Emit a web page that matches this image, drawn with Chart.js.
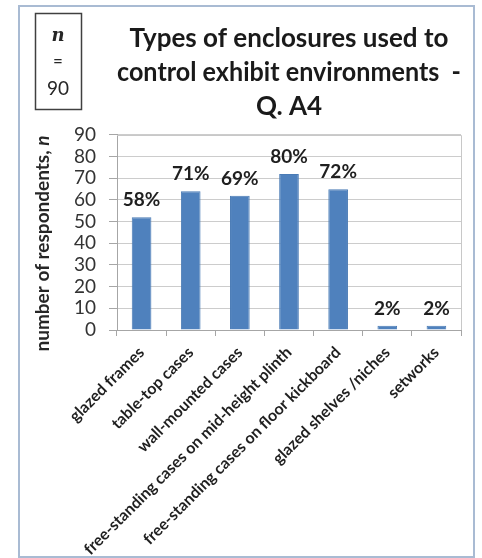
<!DOCTYPE html>
<html>
<head>
    <meta charset="UTF-8">
    <title>Types of enclosures - Q. A4</title>
    <script src="https://cdn.jsdelivr.net/npm/chart.js"></script>
    <style>
        body { margin: 0; background: #fff; }
        #wrap { position: relative; width: 482px; height: 558px; }
    </style>
</head>
<body>
    <div id="wrap">
        <canvas id="chart" width="482" height="558"></canvas>
    </div>

    <script>
        // survey answers, n = 90 respondents
        var totalRespondents = 90;
        var enclosureTypes = [
            'glazed frames',
            'table-top cases',
            'wall-mounted cases',
            'free-standing cases on mid-height plinth',
            'free-standing cases on floor kickboard',
            'glazed shelves /niches',
            'setworks'
        ];
        var respondentCounts = [52, 64, 62, 72, 65, 2, 2];
        var yTicks = [0, 10, 20, 30, 40, 50, 60, 70, 80, 90];

        var titleLines = ['Types of enclosures used to', 'control exhibit environments  -', 'Q. A4'];

        var FONT = 'Lato, "Open Sans", sans-serif';

        // percent labels above each bar
        var percentLabels = {
            id: 'percentLabels',
            afterDatasetsDraw: function(chart) {
                var ctx = chart.ctx;
                var meta = chart.getDatasetMeta(0);
                ctx.save();
                ctx.font = 'bold 19px ' + FONT;
                ctx.fillStyle = '#1f1f1f';
                ctx.textAlign = 'center';
                ctx.textBaseline = 'alphabetic';
                meta.data.forEach(function(bar, i) {
                    var pct = Math.round(respondentCounts[i] / totalRespondents * 100);
                    ctx.fillText(pct + '%', bar.x, bar.y - 11);
                });
                ctx.restore();
            }
        };

        // outer frame, plot border, n box and y axis title
        var decorations = {
            id: 'decorations',
            beforeDraw: function(chart) {
                var ctx = chart.ctx;
                ctx.save();
                ctx.fillStyle = '#ffffff';
                ctx.fillRect(0, 0, chart.width, chart.height);
                ctx.restore();
            },
            afterDraw: function(chart) {
                var ctx = chart.ctx;
                var area = chart.chartArea;
                ctx.save();

                // outer frame
                ctx.strokeStyle = '#a9bbd3';
                ctx.lineWidth = 2;
                ctx.strokeRect(19, 6, 455, 551);

                // plot area right/top edge
                ctx.strokeStyle = '#c8c8c8';
                ctx.lineWidth = 1;
                ctx.beginPath();
                ctx.moveTo(area.left, Math.round(area.top) + 0.5);
                ctx.lineTo(Math.round(area.right) + 0.5, Math.round(area.top) + 0.5);
                ctx.lineTo(Math.round(area.right) + 0.5, area.bottom);
                ctx.stroke();

                // n = 90 box
                ctx.strokeStyle = '#404040';
                ctx.lineWidth = 1.5;
                ctx.strokeRect(35.5, 13.5, 46, 96);
                ctx.fillStyle = '#262626';
                ctx.textAlign = 'center';
                ctx.textBaseline = 'middle';
                ctx.font = 'italic bold 18px "DejaVu Serif", serif';
                ctx.fillText('n', 58, 36);
                ctx.font = '17px ' + FONT;
                ctx.fillText('=', 58, 62);
                ctx.font = '19px ' + FONT;
                ctx.fillText(totalRespondents, 58, 89);

                // y axis title, rotated
                ctx.translate(43, (area.top + area.bottom) / 2 + 11);
                ctx.rotate(-Math.PI / 2);
                ctx.textBaseline = 'middle';
                ctx.textAlign = 'left';
                var main = 'number of respondents, ';
                ctx.font = 'bold 19px ' + FONT;
                var w1 = ctx.measureText(main).width;
                ctx.font = 'bold italic 19px ' + FONT;
                var w2 = ctx.measureText('n').width;
                var x0 = -(w1 + w2) / 2;
                ctx.font = 'bold 19px ' + FONT;
                ctx.fillText(main, x0, 0);
                ctx.font = 'bold italic 19px ' + FONT;
                ctx.fillText('n', x0 + w1, 0);

                ctx.restore();
            }
        };

        var ctx = document.getElementById('chart').getContext('2d');
        var chart = new Chart(ctx, {
            type: 'bar',
            data: {
                labels: enclosureTypes,
                datasets: [{
                    data: respondentCounts,
                    backgroundColor: '#4f81bd',
                    borderColor: '#4a7bb5',
                    borderWidth: 1,
                    barPercentage: 0.8,
                    categoryPercentage: 0.5
                }]
            },
            options: {
                responsive: false,
                animation: false,
                layout: { padding: { left: 0, right: 21, top: 0, bottom: 0 } },
                plugins: {
                    legend: { display: false },
                    tooltip: { enabled: false },
                    title: {
                        display: true,
                        fullSize: false,
                        text: titleLines,
                        color: '#1a1a1a',
                        font: { family: FONT, size: 26, weight: 'bold', lineHeight: 1.32 },
                        padding: { top: 21, bottom: 11 }
                    }
                },
                scales: {
                    x: {
                        afterFit: function(scale) { scale.height = 228; },
                        grid: {
                            offset: true,
                            drawOnChartArea: false,
                            tickLength: 6,
                            color: '#a6a6a6'
                        },
                        border: { color: '#a6a6a6' },
                        ticks: {
                            minRotation: 45,
                            maxRotation: 45,
                            autoSkip: false,
                            padding: 7,
                            color: '#1f1f1f',
                            font: { family: FONT, size: 16, weight: 'bold' }
                        }
                    },
                    y: {
                        min: 0,
                        max: 90,
                        afterFit: function(scale) { scale.width = 117; },
                        afterBuildTicks: function(scale) {
                            scale.ticks = yTicks.map(function(v) { return { value: v }; });
                        },
                        grid: {
                            color: '#cccccc',
                            tickLength: 8,
                            tickColor: '#a6a6a6'
                        },
                        border: { color: '#a6a6a6' },
                        ticks: {
                            autoSkip: false,
                            padding: 13,
                            color: '#333333',
                            font: { family: FONT, size: 19 }
                        }
                    }
                }
            },
            plugins: [decorations, percentLabels]
        });
    </script>
</body>
</html>
